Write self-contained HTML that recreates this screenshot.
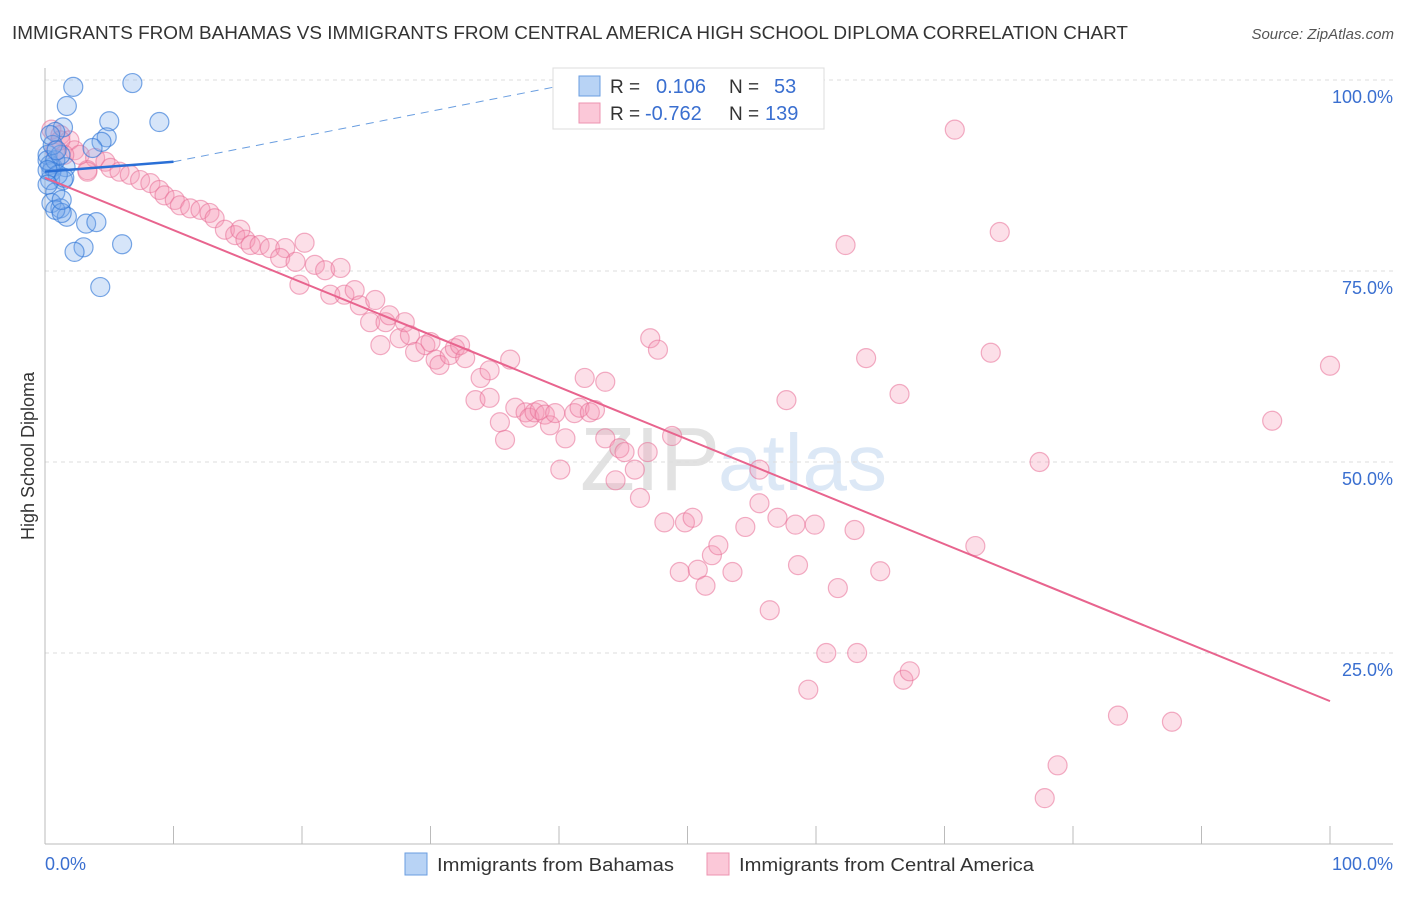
<!DOCTYPE html>
<html><head><meta charset="utf-8"><style>
body{margin:0;background:#fff;font-family:"Liberation Sans",sans-serif}
svg text{font-family:"Liberation Sans",sans-serif}
</style></head><body>
<svg id="chart" width="1406" height="892">
<text x="12" y="39" font-size="18" fill="#333" textLength="1116" lengthAdjust="spacingAndGlyphs">IMMIGRANTS FROM BAHAMAS VS IMMIGRANTS FROM CENTRAL AMERICA HIGH SCHOOL DIPLOMA CORRELATION CHART</text>
<text x="1394" y="39" font-size="15" fill="#555" font-style="italic" text-anchor="end">Source: ZipAtlas.com</text>
<text x="34" y="456" font-size="18" fill="#333" text-anchor="middle" transform="rotate(-90 34 456)">High School Diploma</text>
<text x="720" y="490" font-size="90" fill="#e2e2e2" text-anchor="end" font-family="Liberation Serif">ZIP</text>
<text x="718" y="490" font-size="80" fill="#dce8f6">atlas</text>
<g id="grid"></g><g id="axes"></g><g id="pink"></g><g id="blue"></g><g id="lines"></g>
<g>
<rect x="553" y="68" width="271" height="61" fill="#fff" stroke="#ddd"/>
<rect x="579" y="76" width="21" height="20" fill="#b8d3f5" stroke="#6a9ee0"/>
<rect x="579" y="103" width="21" height="20" fill="#fbc8d8" stroke="#ec93b0"/>
<text x="610" y="93" font-size="19" fill="#333">R =</text><text x="656" y="93" font-size="20" fill="#3a6fd0">0.106</text>
<text x="729" y="93" font-size="19" fill="#333">N =</text><text x="774" y="93" font-size="20" fill="#3a6fd0">53</text>
<text x="610" y="120" font-size="19" fill="#333">R =</text><text x="645" y="120" font-size="20" fill="#3a6fd0">-0.762</text>
<text x="729" y="120" font-size="19" fill="#333">N =</text><text x="765" y="120" font-size="20" fill="#3a6fd0">139</text>
</g>
<g><rect x="405" y="853" width="22" height="22" fill="#b8d3f5" stroke="#6a9ee0"/><text x="437" y="871" font-size="18.5" fill="#333" textLength="237" lengthAdjust="spacingAndGlyphs">Immigrants from Bahamas</text></g>
<g><rect x="707" y="853" width="22" height="22" fill="#fbc8d8" stroke="#ec93b0"/><text x="739" y="871" font-size="18.5" fill="#333" textLength="295" lengthAdjust="spacingAndGlyphs">Immigrants from Central America</text></g>
</svg>
<script>
const yTicks=[25,50,75,100];
const yTickLabels=["25.0%","50.0%","75.0%","100.0%"];
const xEndLabels=["0.0%","100.0%"];
const pinkX=[0.5,1.2,1.9,0.8,2.3,2.7,3.9,3.3,4.7,5.1,5.8,6.6,7.4,8.2,8.9,9.3,10.1,10.5,11.3,12.1,12.8,13.2,14.0,14.8,15.2,15.6,16.0,16.7,17.5,18.7,18.3,19.5,20.2,19.8,21.0,21.8,22.2,23.0,23.3,24.1,24.5,25.3,25.7,26.1,26.5,26.8,27.6,28.0,28.4,28.8,29.6,30.0,30.4,30.7,31.5,31.9,32.3,32.7,33.5,33.9,34.6,34.6,35.4,35.8,36.2,36.6,37.4,37.7,38.1,38.5,38.9,39.3,39.7,40.5,41.2,41.6,42.4,42.0,42.8,43.6,40.1,43.6,44.4,44.7,45.1,45.9,46.3,47.1,46.9,47.7,48.2,48.8,49.4,49.8,50.4,50.8,51.4,51.9,52.4,53.5,54.5,55.6,55.6,56.4,57.0,57.7,58.4,58.6,59.4,59.9,60.8,61.7,62.3,63.0,63.2,63.9,65.0,66.5,66.8,67.3,70.8,72.4,73.6,74.3,77.4,77.8,78.8,83.5,87.7,95.5,100,54.2,1.2,1.5,3.3];
const pinkY=[93.5,92.8,92.1,90.8,90.8,90.2,89.8,88.2,89.3,88.5,88.0,87.6,86.9,86.5,85.6,84.9,84.3,83.6,83.2,83.0,82.6,81.9,80.4,79.7,80.4,79.1,78.4,78.4,78.0,78.0,76.7,76.2,78.7,73.2,75.8,75.1,71.9,75.4,71.9,72.5,70.5,68.3,71.2,65.3,68.3,69.2,66.2,68.3,66.6,64.4,65.3,65.7,63.4,62.7,64.0,64.9,65.3,63.6,58.1,61.0,62.0,58.4,55.2,52.9,63.4,57.1,56.5,55.8,56.5,56.8,56.2,54.8,56.4,53.1,56.4,57.1,56.5,61.0,56.8,60.5,49.0,53.1,47.6,51.8,51.3,49.0,45.3,66.2,51.3,64.7,42.1,53.4,35.6,42.1,42.7,35.9,33.8,37.8,39.1,35.6,41.5,49.0,44.6,30.6,42.7,58.1,41.8,36.5,20.2,41.8,25.0,33.5,78.4,41.1,25.0,63.6,35.7,58.9,21.5,22.6,93.5,39.0,64.3,80.1,50.0,6.0,10.3,16.8,16.0,55.4,62.6,100,92.1,90.2,88.0];
const blueX=[2.2,6.8,1.7,5.0,8.9,1.4,0.8,4.8,4.4,3.7,0.6,1.6,0.4,1.4,0.8,0.5,1.2,1.7,0.8,1.3,3.2,4.0,3.0,2.3,6.0,4.3,0.2,0.4,0.5,0.2,0.8,1.0,0.2,1.2,0.6,0.4,1.5,1.3,0.2,0.9];
const blueY=[99.1,99.6,96.6,94.6,94.5,93.8,93.2,92.5,91.9,91.1,88.6,88.6,86.9,86.9,85.3,83.9,83.2,82.1,83.0,82.6,81.2,81.4,78.1,77.5,78.5,72.9,90.2,88.9,88.0,89.5,89.5,87.6,88.2,90.2,91.5,92.8,87.2,84.3,86.3,90.8];
const blueTrend=[88.0,89.3,99.2]; // at x=0, 10, 40
const pinkTrend=[87.2,18.7]; // at x=0, 100
const NS="http://www.w3.org/2000/svg";
const X=v=>45+v*12.85, Y=v=>844-v*7.64;
function mk(p,tag,a){const e=document.createElementNS(NS,tag);for(const k in a)e.setAttribute(k,a[k]);document.getElementById(p).appendChild(e);return e;}
yTicks.forEach((t,i)=>{
 const l=mk('grid','line',{x1:45,x2:1393,y1:Y(t),y2:Y(t),stroke:'#ddd','stroke-dasharray':'4 4'});
 
 
 const tx=mk('grid','text',{x:1393,y:Y(t)+23,'font-size':18,fill:'#3a6fd0','text-anchor':'end'});
 tx.textContent=yTickLabels[i];
 
 
});
let a=mk('axes','line',{x1:45,x2:45,y1:68,y2:844,stroke:'#bbb'});


a=mk('axes','line',{x1:45,x2:1393,y1:844,y2:844,stroke:'#bbb'});


for(let i=0;i<=10;i++){const t=mk('axes','line',{x1:X(i*10),x2:X(i*10),y1:826,y2:844,stroke:'#bbb'});
 
 }
let xl=mk('axes','text',{x:45,y:870,'font-size':18,fill:'#3a6fd0'});xl.textContent=xEndLabels[0];


xl=mk('axes','text',{x:1393,y:870,'font-size':18,fill:'#3a6fd0','text-anchor':'end'});xl.textContent=xEndLabels[1];


pinkX.forEach((v,i)=>{const c=mk('pink','circle',{cx:X(v),cy:Y(pinkY[i]),r:9.5,fill:'rgba(244,150,180,0.3)',stroke:'rgba(232,110,150,0.55)','stroke-width':1.2});
 
 });
blueX.forEach((v,i)=>{const c=mk('blue','circle',{cx:X(v),cy:Y(blueY[i]),r:9.5,fill:'rgba(120,170,235,0.3)',stroke:'rgba(50,120,215,0.65)','stroke-width':1.2});
 
 });
let L=mk('lines','line',{x1:X(0),y1:Y(pinkTrend[0]),x2:X(100),y2:Y(pinkTrend[1]),stroke:'#e8648e','stroke-width':2});


L=mk('lines','line',{x1:X(0),y1:Y(blueTrend[0]),x2:X(10),y2:Y(blueTrend[1]),stroke:'#2a6fd6','stroke-width':2.5});


L=mk('lines','line',{x1:X(10),y1:Y(blueTrend[1]),x2:X(40),y2:Y(blueTrend[2]),stroke:'#6a9ee0','stroke-width':1,'stroke-dasharray':'8 6'});


</script>
</body></html>
